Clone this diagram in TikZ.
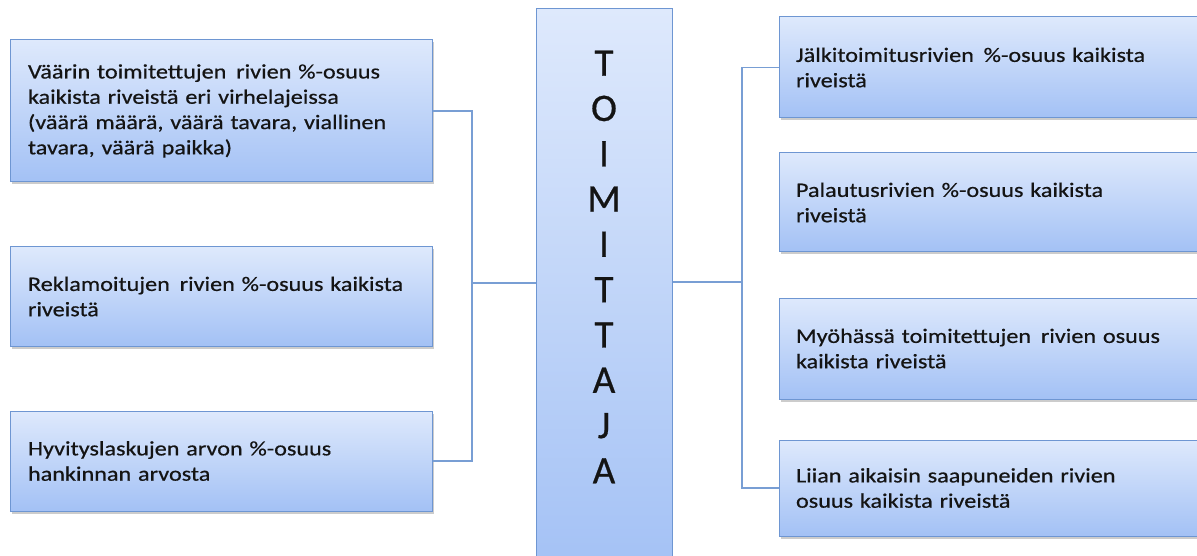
\documentclass[tikz,border=0pt]{standalone}
\usepackage{fontspec}
\setmainfont{Carlito}[FakeStretch=1.18, FakeBold=0.6]
\newfontfamily\ctfont{Carlito}[FakeBold=0.6]
\usetikzlibrary{shadows}
\definecolor{boxtop}{RGB}{222,233,252}
\definecolor{boxbot}{RGB}{163,193,245}
\definecolor{boxline}{RGB}{110,150,210}
\definecolor{conline}{RGB}{120,158,212}
\definecolor{txt}{RGB}{20,20,20}
\newcommand{\wgap}{\kern3pt\ }
\tikzset{
  infobox/.style={draw=boxline, line width=1pt, top color=boxtop, bottom color=boxbot,
    drop shadow={opacity=0.4, shadow xshift=1.5pt, shadow yshift=-2.5pt},
    align=left, inner xsep=0pt, inner ysep=0pt, text=txt,
    font=\fontsize{20.5}{25.3}\selectfont, anchor=center},
  leftbox/.style={infobox, minimum width=422pt, text width=386pt},
  rightbox/.style={infobox, minimum width=430pt, text width=396pt},
  centerbox/.style={draw=boxline, line width=1pt, top color=boxtop, bottom color=boxbot,
    minimum width=136pt, minimum height=570pt, anchor=north, inner sep=0pt},
  letters/.style={align=center, text=txt, font=\ctfont\fontsize{39}{45.3}\selectfont, inner sep=0pt},
  conn/.style={draw=conline, line width=1.2pt}
}
\begin{document}
\begin{tikzpicture}[x=1pt,y=-1pt]
\useasboundingbox (0,0) rectangle (1197,556);
\clip (0,0) rectangle (1197,556);
\fill[white] (0,0) rectangle (1197,556);

\node[leftbox, minimum height=142pt] (L1) at (221,111)
  {Väärin toimitettujen\wgap rivien \%-osuus\\kaikista riveistä eri virhelajeissa\\(väärä määrä, väärä tavara, viallinen\\tavara, väärä paikka)};
\node[leftbox, minimum height=99pt] (L2) at (221,296.5)
  {Reklamoitujen\wgap rivien \%-osuus kaikista\\riveistä};
\node[leftbox, minimum height=100pt] (L3) at (221,461)
  {Hyvityslaskujen arvon \%-osuus\\hankinnan arvosta};

\node[centerbox] (C) at (604,8) {};
\node[letters] (CT) at (604,267) {T\\O\\I\\M\\I\\T\\T\\A\\J\\A};

\node[rightbox, minimum height=101pt] (R1) at (994,67.5)
  {Jälkitoimitusrivien\wgap \%-osuus kaikista\\riveistä};
\node[rightbox, minimum height=99pt] (R2) at (994,202.5)
  {Palautusrivien \%-osuus kaikista\\riveistä};
\node[rightbox, minimum height=101pt] (R3) at (994,348.5)
  {Myöhässä toimitettujen\wgap rivien osuus\\kaikista riveistä};
\node[rightbox, minimum height=96pt] (R4) at (994,488)
  {Liian aikaisin saapuneiden rivien\\osuus kaikista riveistä};

\coordinate (lt) at (472,283);
\coordinate (rt) at (742,282);
\draw[conn] (L1.east) -| (lt) |- (L3.east);
\draw[conn] (lt) -- (lt -| C.west);
\draw[conn] (R1.west) -| (rt) |- (R4.west);
\draw[conn] (rt -| C.east) -- (rt);
\end{tikzpicture}
\end{document}
